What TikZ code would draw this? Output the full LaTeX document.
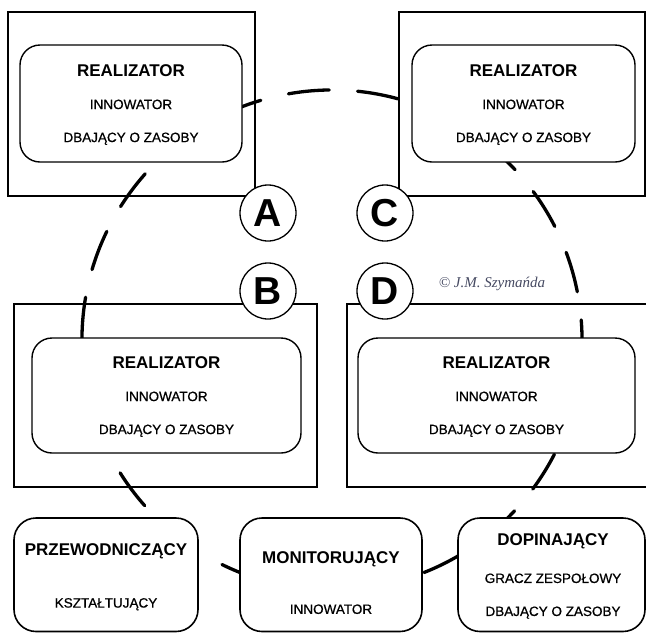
\documentclass[tikz,border=0pt]{standalone}
\usepackage{fontspec}
\setmainfont{Liberation Sans}
\newfontfamily\subfont{Liberation Sans}[FakeBold=0.7]
\newfontfamily\signfont{Liberation Serif}
\definecolor{signgray}{RGB}{70,74,98}
\newcommand\rolehead[1]{{\normalfont\bfseries\fontsize{17}{33}\selectfont #1}}

\begin{document}
\begin{tikzpicture}[x=1pt,y=-1pt]
  \tikzstyle{frame}=[draw,line width=2.2pt,inner sep=0pt]
  \tikzstyle{rolebox}=[draw,fill=white,rounded corners=20pt,line width=1.4pt,inner sep=0pt]
  \tikzstyle{roles}=[align=center,inner sep=0pt,font=\subfont\fontsize{13.5}{33}\selectfont]
  \tikzstyle{tag}=[circle,draw,fill=white,line width=1.3pt,minimum size=56pt,inner sep=0pt,font=\bfseries\fontsize{39}{39}\selectfont]
  \tikzstyle{ring}=[line width=3.3pt,line cap=round,dash pattern=on 41pt off 28.4pt,dash phase=42.4pt]
  \useasboundingbox (0,0) rectangle (646,633);
  \clip (0,0) rectangle (646,633);
  % outer frames
  \node[frame,minimum width=247pt,minimum height=184pt] (frameA) at (131.5,104) {};
  \node[frame,minimum width=246pt,minimum height=184pt] (frameC) at (522,104) {};
  \node[frame,minimum width=303pt,minimum height=183pt] (frameB) at (165.5,395.5) {};
  \node[frame,minimum width=318pt,minimum height=183pt] (frameD) at (506,395.5) {};
  % team cycle, seam hidden behind box B
  \coordinate (hub) at (332,340);
  \draw[ring] (hub) ++(190:250pt) arc[start angle=190,end angle=550,radius=250pt];
  % roles in the frames
  \node[rolebox,minimum width=222pt,minimum height=117pt] (realA) at (131,103.5) {};
  \node[rolebox,minimum width=223pt,minimum height=117pt] (realC) at (523.5,103.5) {};
  \node[rolebox,minimum width=269pt,minimum height=115pt] (realB) at (166.5,395.5) {};
  \node[rolebox,minimum width=277pt,minimum height=115pt] (realD) at (496.5,395.5) {};
  \node[roles] (txtA) at (131,104.5) {\rolehead{REALIZATOR}\\INNOWATOR\\DBAJĄCY O ZASOBY};
  \node[roles] (txtC) at (523.5,104.5) {\rolehead{REALIZATOR}\\INNOWATOR\\DBAJĄCY O ZASOBY};
  \node[roles] (txtB) at (166.5,396.5) {\rolehead{REALIZATOR}\\INNOWATOR\\DBAJĄCY O ZASOBY};
  \node[roles] (txtD) at (496.5,396.5) {\rolehead{REALIZATOR}\\INNOWATOR\\DBAJĄCY O ZASOBY};
  % bottom row
  \node[rolebox,rounded corners=22pt,line width=1.6pt,minimum width=184pt,minimum height=113.5pt] (chair) at (106,574.75) {};
  \node[rolebox,rounded corners=22pt,line width=1.6pt,minimum width=182pt,minimum height=113.5pt] (moni) at (331,574.75) {};
  \node[rolebox,rounded corners=22pt,line width=1.6pt,minimum width=187pt,minimum height=113.5pt] (fini) at (551.5,574.75) {};
  \node[roles] (txtchair) at (106,577) {\rolehead{PRZEWODNICZĄCY}\\[19pt]KSZTAŁTUJĄCY};
  \node[roles] (txtmoni) at (331,583) {\rolehead{MONITORUJĄCY}\\[17pt]INNOWATOR};
  \node[roles] (txtfini) at (553,576.4) {\rolehead{DOPINAJĄCY}\\[4pt]GRACZ ZESPOŁOWY\\DBAJĄCY O ZASOBY};
  % labels
  \node[tag] (tagA) at (268,213) {A};
  \node[tag] (tagC) at (385,213) {C};
  \node[tag] (tagB) at (268,291) {B};
  \node[tag] (tagD) at (385,291) {D};
  \node[font=\signfont\itshape\fontsize{15}{15}\selectfont,text=signgray] (sign) at (492,284) {© J.M. Szymańda};
\end{tikzpicture}
\end{document}
